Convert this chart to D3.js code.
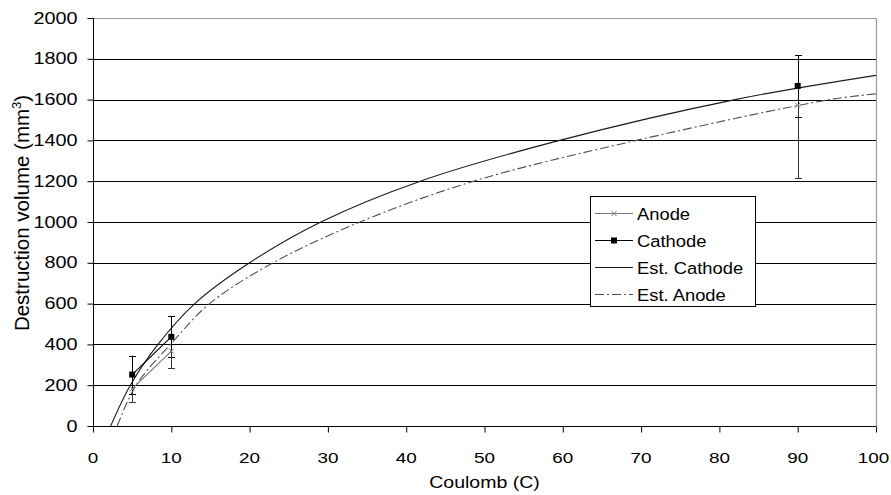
<!DOCTYPE html>
<html><head><meta charset="utf-8">
<script src="https://cdn.jsdelivr.net/npm/d3@7"></script>
<style>
html,body{margin:0;padding:0;background:#fff;}
text{font-family:"Liberation Sans",Arial,sans-serif;fill:#000;}
</style></head>
<body><svg id="c" width="891" height="495"></svg>
<script>
// ---- data ----
const coulombs = [5, 10, null, 90];            // null = gap in the measured series
const anodeValues = [182, 367, null, 1572];
const anodeErrMinus = [64, 82, null, 358];
const cathodeValues = [252, 437, null, 1667];
const cathodeErr = [93, 100, null, 150];

const estCathodeX = [2.26, 4.77, 8.3, 13.0, 20.0, 29.1, 41.8, 59.6, 82.0, 100];
const estCathodeY = [0, 200, 400, 600, 800, 1000, 1200, 1400, 1600, 1719];
const estAnodeX = [3.1, 5.5, 9.9, 14.9, 23.0, 34.1, 48.6, 69.4, 94.1, 100];
const estAnodeY = [0, 200, 400, 600, 800, 1000, 1200, 1400, 1600, 1628];

const xTicks = [0,10,20,30,40,50,60,70,80,90,100];
const yTicks = [0,200,400,600,800,1000,1200,1400,1600,1800,2000];
const legendLabels = ["Anode","Cathode","Est. Cathode","Est. Anode"];

// ---- layout ----
const svg = d3.select("#c");
const x = d3.scaleLinear().domain([0,100]).range([93,876]);
const y = d3.scaleLinear().domain([0,2000]).range([426,18]);

function addText(g, px, py, str, size, anchor, sx, rot){
  const t = g.append("text")
    .attr("transform", `translate(${px},${py})` + (rot?` rotate(${rot})`:"") + ` scale(${sx},1)`)
    .attr("font-size", size).attr("text-anchor", anchor).text(str);
  return t;
}

// gridlines
svg.append("g").selectAll("line").data(yTicks.filter(v=>v>0 && v<2000)).join("line")
  .attr("x1", x(0)).attr("x2", x(100))
  .attr("y1", d=>Math.round(y(d))+0.5).attr("y2", d=>Math.round(y(d))+0.5)
  .attr("stroke","#000").attr("stroke-width",1);

// plot border top/right
svg.append("path")
  .attr("d", `M${x(0)},${Math.round(y(2000))+0.5}H${Math.round(x(100))+0.5}V${y(0)}`)
  .attr("fill","none").attr("stroke","#9a9a9a").attr("stroke-width",1.2);

// axes
const yAxis = d3.axisLeft(y).tickValues(yTicks).tickSize(6).tickFormat("");
const xAxis = d3.axisBottom(x).tickValues(xTicks).tickSize(6).tickFormat("");
const gy = svg.append("g").attr("transform",`translate(${Math.round(x(0))+0.5},0)`).call(yAxis);
const gx = svg.append("g").attr("transform",`translate(0,${Math.round(y(0))+0.5})`).call(xAxis);
[gy,gx].forEach(g=>{ g.select(".domain").attr("stroke","#000"); g.selectAll(".tick line").attr("stroke","#000"); });
gy.select(".domain").attr("d", `M0,${y(0)}V${y(2000)}`);
gx.select(".domain").attr("d", `M${x(0)},0H${x(100)}`);

// tick labels
yTicks.forEach(v=> addText(svg, 77.5, y(v)+5.6, String(v), 16, "end", 1.24));
xTicks.forEach(v=> addText(svg, Math.min(x(v), 873.5), 463, String(v), 15.5, "middle", 1.22));

// axis titles
addText(svg, x(50), 487.5, "Coulomb (C)", 16, "middle", 1.22);
const yt = svg.append("text").attr("transform","translate(29,213) rotate(-90)")
  .attr("font-size",20.5).attr("text-anchor","middle");
yt.append("tspan").text("Destruction volume (mm");
yt.append("tspan").attr("font-size",13).attr("dy",-8).text("3");
yt.append("tspan").attr("dy",8).text(")");

// estimated curves
const clip = svg.append("clipPath").attr("id","pc").append("rect")
  .attr("x",x(0)).attr("y",y(2000)).attr("width",x(100)-x(0)).attr("height",y(0)-y(2000));
const curveLine = d3.line().x(d=>x(d[0])).y(d=>y(d[1])).curve(d3.curveCatmullRom.alpha(0.5));
svg.append("path").attr("clip-path","url(#pc)")
  .attr("d", curveLine(d3.zip(estCathodeX, estCathodeY)))
  .attr("fill","none").attr("stroke","#1a1a1a").attr("stroke-width",1.1);
svg.append("path").attr("clip-path","url(#pc)")
  .attr("d", curveLine(d3.zip(estAnodeX, estAnodeY)))
  .attr("fill","none").attr("stroke","#505050").attr("stroke-width",1.1)
  .attr("stroke-dasharray","9,3,2,3");

// measured lines (with gap)
const segLine = d3.line().defined(d=>d[0]!=null && d[1]!=null).x(d=>x(d[0])).y(d=>y(d[1]));
svg.append("path").attr("d", segLine(d3.zip(coulombs, anodeValues)))
  .attr("fill","none").attr("stroke","#777").attr("stroke-width",1.1);
svg.append("path").attr("d", segLine(d3.zip(coulombs, cathodeValues)))
  .attr("fill","none").attr("stroke","#000").attr("stroke-width",1.1);

// error bars
function errBar(cx, y1, y2, col){
  const X = Math.round(x(cx))+0.5;
  svg.append("line").attr("x1",X).attr("x2",X).attr("y1",y(y1)).attr("y2",y(y2)).attr("stroke",col);
  [y1,y2].forEach(v=> svg.append("line").attr("x1",X-3.5).attr("x2",X+3.5)
    .attr("y1",Math.round(y(v))+0.5).attr("y2",Math.round(y(v))+0.5).attr("stroke",col));
}
coulombs.forEach((c,i)=>{
  if(c==null) return;
  errBar(c, cathodeValues[i]-cathodeErr[i], cathodeValues[i]+cathodeErr[i], "#000");
  // anode: minus direction only
  const X = Math.round(x(c))+0.5;
  svg.append("line").attr("x1",X).attr("x2",X).attr("y1",y(anodeValues[i])).attr("y2",y(anodeValues[i]-anodeErrMinus[i])).attr("stroke","#333");
  svg.append("line").attr("x1",X-3.5).attr("x2",X+3.5)
    .attr("y1",Math.round(y(anodeValues[i]-anodeErrMinus[i]))+0.5).attr("y2",Math.round(y(anodeValues[i]-anodeErrMinus[i]))+0.5).attr("stroke","#333");
});

// markers
function xMark(g, cx, cy){
  g.append("path").attr("d",`M${cx-2.5},${cy-2.5}L${cx+2.5},${cy+2.5}M${cx-2.5},${cy+2.5}L${cx+2.5},${cy-2.5}`)
    .attr("stroke","#777").attr("stroke-width",1);
}
function sqMark(g, cx, cy){
  g.append("rect").attr("x",cx-3).attr("y",cy-3).attr("width",6).attr("height",6).attr("fill","#000");
}
coulombs.forEach((c,i)=>{
  if(c==null) return;
  xMark(svg, x(c), y(anodeValues[i]));
  sqMark(svg, x(c), y(cathodeValues[i]));
});

// legend
const lg = svg.append("g");
lg.append("rect").attr("x",590.5).attr("y",196.5).attr("width",165).attr("height",110)
  .attr("fill","#fff").attr("stroke","#000");
const ly = [213, 240, 267, 294];
legendLabels.forEach((lab,i)=>{
  const yy = ly[i]+0.5;
  const ln = lg.append("line").attr("x1",595).attr("x2",633).attr("y1",yy).attr("y2",yy).attr("stroke-width",1.1);
  if(i===0){ ln.attr("stroke","#777"); xMark(lg,614,yy); }
  if(i===1){ ln.attr("stroke","#000"); sqMark(lg,614,yy); }
  if(i===2){ ln.attr("stroke","#1a1a1a"); }
  if(i===3){ ln.attr("stroke","#505050").attr("stroke-dasharray","9,3,2,3"); }
  addText(lg, 637, yy+6, lab, 17, "start", 1.08);
});
</script></body></html>
